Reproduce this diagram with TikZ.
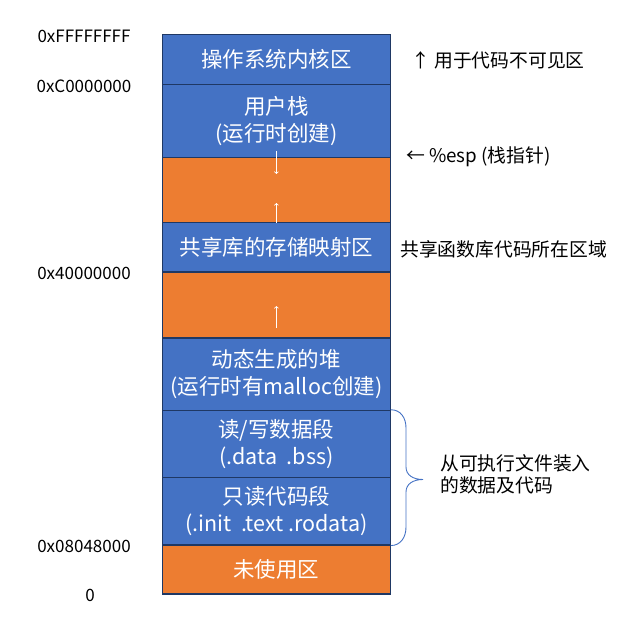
\documentclass[tikz,border=0pt]{standalone}
\usepackage{fontspec}
\setmainfont{Noto Sans CJK SC}
\usepackage{tikz}
\usetikzlibrary{positioning,arrows}
\definecolor{segblue}{HTML}{4472C4}
\definecolor{segorange}{HTML}{ED7D31}
\definecolor{segline}{HTML}{1F3864}

\begin{document}
\begin{tikzpicture}[x=1bp,y=-1bp, >=to,
  segnode/.style={rectangle,draw=segline,line width=1.1bp,minimum width=227.8bp,inner sep=0pt,text=white,align=center,font=\fontsize{21.5bp}{26.8bp}\selectfont},
  bluenode/.style={segnode,fill=segblue},
  orangenode/.style={segnode,fill=segorange},
  addrnode/.style={inner sep=0pt,font=\fontsize{17bp}{20bp}\selectfont},
  notenode/.style={anchor=west,inner sep=0pt,align=left,font=\fontsize{18.8bp}{22bp}\selectfont},
  growarrow/.style={->,white,line width=0.8bp}]
		\useasboundingbox (0,0) rectangle (628,621);
		\node[bluenode, minimum height=50bp] (1) at (276.4,59.3) {操作系统内核区};
		\node[bluenode, minimum height=73bp] (2) at (276.4,120.8) {用户栈\\(运行时创建)};
		\node[orangenode, minimum height=65.2bp] (3) at (276.4,189.9) {};
		\node[bluenode, minimum height=49.5bp] (4) at (276.4,247.25) {共享库的存储映射区};
		\node[orangenode, minimum height=66bp] (5) at (276.4,305) {};
		\node[bluenode, minimum height=72.3bp] (6) at (276.4,374.15) {动态生成的堆\\(运行时有malloc创建)};
		\node[bluenode, minimum height=67bp] (7) at (276.4,443.8) {读/写数据段\\(.data\ \ .bss)};
		\node[bluenode, minimum height=67.7bp] (8) at (276.4,511.15) {只读代码段\\(.init\ \ .text .rodata)};
		\node[orangenode, minimum height=49bp] (9) at (276.4,569.5) {未使用区};
		\node[addrnode] (a1) at (84,36) {0xFFFFFFFF};
		\node[addrnode] (a2) at (84,86) {0xC0000000};
		\node[addrnode] (a3) at (84,273) {0x40000000};
		\node[addrnode] (a4) at (84,546) {0x08048000};
		\node[addrnode] (a5) at (90,595) {0};
		\node[notenode] (n1) at (411,60) {↑ 用于代码不可见区};
		\node[notenode] (n2) at (406,157) {← \%esp (栈指针)};
		\node[notenode] (n3) at (400,249) {共享函数库代码所在区域};
		\node[notenode] (n4) at (440,474) {从可执行文件装入\\的数据及代码};
		\coordinate (d1) at (276.4,151);
		\coordinate (d2) at (276.4,174);
		\coordinate (u1) at (276.4,203);
		\coordinate (u2) at (276.4,328);
		\coordinate (u3) at (276.4,306);
		\draw[growarrow] (d1) -- (d2);
		\draw[growarrow] (3.south) -- (u1);
		\draw[growarrow] (u2) -- (u3);
		\draw[segblue, line width=0.9bp] (7.north east) .. controls +(10,0) and +(0,-10) .. (406,428) -- (406,467) .. controls +(0,8) and +(-10,0) .. (423,479.5) .. controls +(-10,0) and +(0,-8) .. (406,492) -- (406,527) .. controls +(0,10) and +(10,0) .. (8.south east);
		
	\end{tikzpicture}
\end{document}
